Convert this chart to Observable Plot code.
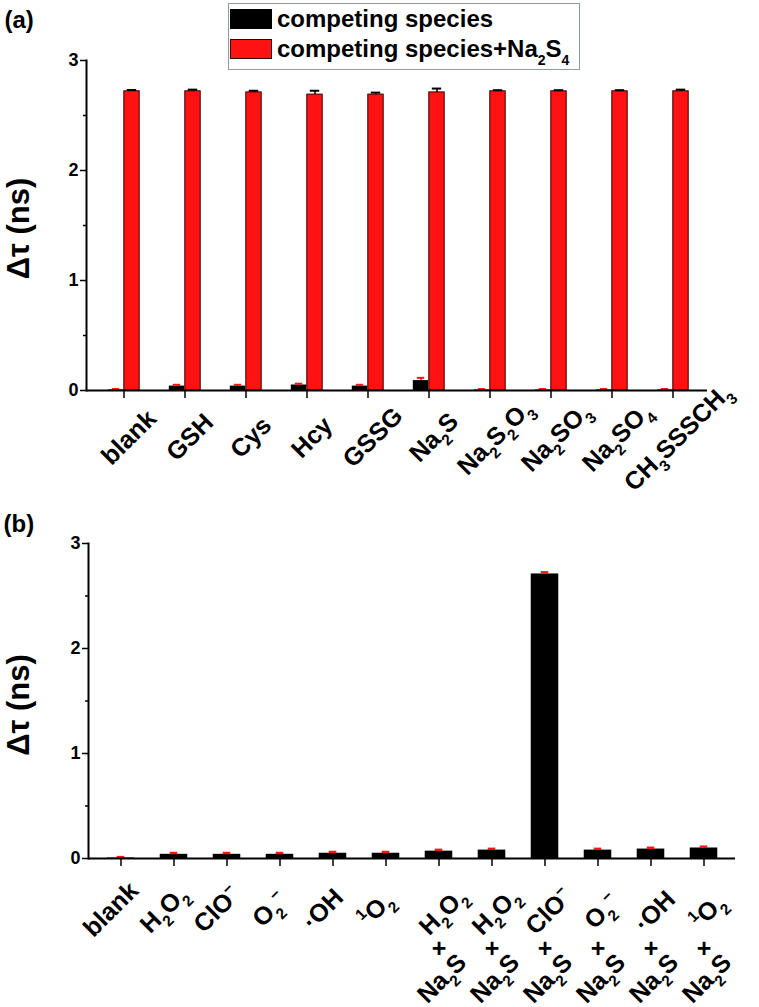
<!DOCTYPE html>
<html><head><meta charset="utf-8">
<script src="https://cdn.jsdelivr.net/npm/d3@7"></script>
<script src="https://cdn.jsdelivr.net/npm/@observablehq/plot@0.6"></script>
<style>
body{margin:0;background:#fff;font-family:"Liberation Sans",Arial,sans-serif;}
#wrap{position:relative;width:759px;}
.panel{position:relative;width:759px;}
#legend{position:absolute;left:228px;top:3px;width:352px;height:67px;border:1px solid #8f9d9d;background:#fff;box-sizing:border-box;font-weight:bold;font-size:24px;color:#000;}
#legend .sw{position:absolute;left:1px;width:42px;height:20px;box-sizing:border-box;}
#legend .t{position:absolute;left:48px;line-height:24px;white-space:nowrap;}
#legend sub{font-size:14px;vertical-align:-8px;line-height:0;}
</style></head>
<body><div id="wrap"><div id="pa" class="panel"></div><div id="pb" class="panel"></div></div>
<script>
// ---------- data: panel (a) ----------
const catsA = ["blank","GSH","Cys","Hcy","GSSG","Na₂S","Na₂S₂O₃","Na₂SO₃","Na₂SO₄","CH₃SSSCH₃"];
const speciesA    = [0.005,0.04,0.04,0.05,0.04,0.09,0.005,0.005,0.005,0.005];
const speciesErrA = [0.008,0.012,0.012,0.012,0.012,0.025,0.008,0.008,0.008,0.008];
const withS4A     = [2.72,2.72,2.71,2.69,2.69,2.71,2.72,2.72,2.72,2.72];
const withS4ErrA  = [0.012,0.015,0.015,0.035,0.018,0.035,0.01,0.01,0.01,0.015];
// ---------- data: panel (b) ----------
const labelsB = ["blank","H₂O₂","ClO⁻","O₂⁻","·OH","¹O₂","H₂O₂","H₂O₂","ClO⁻","O₂⁻","·OH","¹O₂"];
const addedB  = ["","","","","","","Na₂S","Na₂S","Na₂S","Na₂S","Na₂S","Na₂S"];
const valuesB = [0.005,0.04,0.04,0.04,0.05,0.05,0.07,0.08,2.71,0.08,0.09,0.10];
const errB    = [0.008,0.012,0.012,0.012,0.012,0.012,0.012,0.012,0.015,0.012,0.012,0.012];
const yTicks = [0,1,2,3];
const yMinor = [0.5,1.5,2.5];
const yLabel = "Δτ (ns)";

const FONT = "Liberation Sans, Arial, sans-serif";
const RED = "#ff1212";
const LBL = 25;

// turn unicode sub/superscript characters into real shifted tspans
const SUB = {"₀":"0","₁":"1","₂":"2","₃":"3","₄":"4","₅":"5","₆":"6","₇":"7","₈":"8","₉":"9"};
const SUP = {"⁰":"0","¹":"1","²":"2","³":"3","⁴":"4","⁻":"−"};
function scripts(svg) {
  svg.querySelectorAll("text").forEach(t => {
    if (t.querySelector("tspan")) return;
    const s = t.textContent;
    const chars = [...s];
    if (!chars.some(c => SUB[c] || SUP[c])) return;
    const fs = parseFloat(getComputedStyle(t).fontSize);
    const runs = [];
    for (const c of chars) {
      const k = SUB[c] ? "b" : SUP[c] ? "p" : "n";
      const v = SUB[c] || SUP[c] || c;
      if (runs.length && runs[runs.length-1].k === k) runs[runs.length-1].v += v;
      else runs.push({k, v});
    }
    t.textContent = "";
    for (const r of runs) {
      const ts = document.createElementNS("http://www.w3.org/2000/svg", "tspan");
      ts.textContent = r.v;
      if (r.k !== "n") {
        ts.setAttribute("font-size", (fs * 0.62).toFixed(1));
        ts.setAttribute("baseline-shift", r.k === "b" ? (-0.3 * fs).toFixed(1) : (0.42 * fs).toFixed(1));
      }
      t.appendChild(ts);
    }
  });
}

// ---------- panel (a) ----------
{
  const W = 759, H = 500, mL = 86, mR = 52, mT = 60, mB = 110, inL = 4, inR = 1;
  const n = catsA.length;
  const bw = (W - mR - inR - mL - inL) / n;
  const barW = 16;
  const idx = d3.range(n);
  const svg = Plot.plot({
    width: W, height: H, marginLeft: mL, marginRight: mR, marginTop: mT, marginBottom: mB,
    style: {fontFamily: FONT, fontWeight: "bold", fontSize: "18px", background: "white", color: "black", overflow: "visible"},
    x: {type: "band", domain: idx, padding: 0, insetLeft: inL, insetRight: inR, axis: null},
    y: {domain: [0, 3], axis: null},
    marks: [
      Plot.barY(idx, {x: i => i, y: i => speciesA[i], fill: "black", insetLeft: bw/2 - barW, insetRight: bw/2}),
      Plot.barY(idx, {x: i => i, y: i => withS4A[i], fill: RED, stroke: "#3a0000", strokeWidth: 1, insetLeft: bw/2, insetRight: bw/2 - barW}),
      Plot.ruleX(idx, {x: i => i, y1: i => withS4A[i], y2: i => withS4A[i] + withS4ErrA[i], dx: barW/2, stroke: "black", strokeWidth: 1.5}),
      Plot.tickY(idx, {x: i => i, y: i => withS4A[i] + withS4ErrA[i], dx: barW/2, insetLeft: bw/2 - 5, insetRight: bw/2 - 5, stroke: "black", strokeWidth: 2}),
      Plot.ruleX(idx, {x: i => i, y1: i => speciesA[i], y2: i => speciesA[i] + speciesErrA[i], dx: -barW/2, stroke: RED, strokeWidth: 1.5}),
      Plot.tickY(idx, {x: i => i, y: i => speciesA[i] + speciesErrA[i], dx: -barW/2, insetLeft: bw/2 - 4, insetRight: bw/2 - 4, stroke: RED, strokeWidth: 2}),
      Plot.frame({anchor: "left", strokeWidth: 2}),
      Plot.ruleY([0], {strokeWidth: 2}),
      Plot.axisY({ticks: yTicks, tickFormat: d => String(d), tickSize: 6, tickPadding: 2, fontSize: 18, fontWeight: "bold", strokeWidth: 1.5, label: null}),
      Plot.axisY({ticks: yMinor, tickSize: 3, tickFormat: () => "", strokeWidth: 1.5, label: null}),
      Plot.axisX({tickSize: 8, tickFormat: () => "", strokeWidth: 1.5, label: null}),
      Plot.text(idx, {x: i => i, y: 0, text: i => catsA[i], rotate: -45, dx: 5, dy: 47, textAnchor: "middle", lineAnchor: "middle", fontSize: LBL, fontWeight: "bold", fill: "black"}),
      Plot.text([yLabel], {frameAnchor: "left", rotate: -90, dx: 19 - mL, dy: 3, textAnchor: "middle", lineAnchor: "middle", fontSize: 31, fontWeight: "bold", fill: "black"}),
      Plot.text(["(a)"], {frameAnchor: "top-left", dx: 4 - mL, dy: 10 - mT, textAnchor: "start", lineAnchor: "top", fontSize: 24, fontWeight: "bold", fill: "black"})
    ]
  });
  const host = document.getElementById("pa");
  host.appendChild(svg);
  scripts(svg);
  const lg = document.createElement("div");
  lg.id = "legend";
  lg.innerHTML =
    '<div class="sw" style="top:5px;background:#000"></div>' +
    '<div class="t" style="top:3px">competing species</div>' +
    '<div class="sw" style="top:35px;background:' + RED + ';border:1px solid #3a0000"></div>' +
    '<div class="t" style="top:33px">competing species+Na<sub>2</sub>S<sub>4</sub></div>';
  host.appendChild(lg);
}

// ---------- panel (b) ----------
{
  const W = 759, H = 507, mL = 88, mR = 24, mT = 43, mB = 149, inL = 3.3, inR = 2.3;
  const n = labelsB.length;
  const bw = (W - mR - inR - mL - inL) / n;
  const barW = 28;
  const idx = d3.range(n);
  const single = idx.filter(i => !addedB[i]);
  const combo = idx.filter(i => addedB[i]);
  const svg = Plot.plot({
    width: W, height: H, marginLeft: mL, marginRight: mR, marginTop: mT, marginBottom: mB,
    style: {fontFamily: FONT, fontWeight: "bold", fontSize: "18px", background: "white", color: "black", overflow: "visible"},
    x: {type: "band", domain: idx, padding: 0, insetLeft: inL, insetRight: inR, axis: null},
    y: {domain: [0, 3], axis: null},
    marks: [
      Plot.barY(idx, {x: i => i, y: i => valuesB[i], fill: "black", insetLeft: (bw - barW)/2, insetRight: (bw - barW)/2}),
      Plot.ruleX(idx, {x: i => i, y1: i => valuesB[i], y2: i => valuesB[i] + errB[i], stroke: RED, strokeWidth: 1.5}),
      Plot.tickY(idx, {x: i => i, y: i => valuesB[i] + errB[i], insetLeft: bw/2 - 4, insetRight: bw/2 - 4, stroke: RED, strokeWidth: 2.5}),
      Plot.frame({anchor: "left", strokeWidth: 2}),
      Plot.ruleY([0], {strokeWidth: 2}),
      Plot.axisY({ticks: yTicks, tickFormat: d => String(d), tickSize: 6, tickPadding: 2, fontSize: 18, fontWeight: "bold", strokeWidth: 1.5, label: null}),
      Plot.axisY({ticks: yMinor, tickSize: 3, tickFormat: () => "", strokeWidth: 1.5, label: null}),
      Plot.axisX({tickSize: 8, tickFormat: () => "", strokeWidth: 1.5, label: null}),
      Plot.text(single, {x: i => i, y: 0, text: i => labelsB[i], rotate: -45, dx: -10, dy: 51, textAnchor: "middle", lineAnchor: "middle", fontSize: LBL, fontWeight: "bold", fill: "black"}),
      Plot.text(combo, {x: i => i, y: 0, text: i => labelsB[i], rotate: -45, dx: 4, dy: 53, textAnchor: "middle", lineAnchor: "middle", fontSize: LBL, fontWeight: "bold", fill: "black"}),
      Plot.text(combo, {x: i => i, y: 0, text: () => "+", dx: 0, dy: 90, textAnchor: "middle", lineAnchor: "middle", fontSize: LBL, fontWeight: "bold", fill: "black"}),
      Plot.text(combo, {x: i => i, y: 0, text: i => addedB[i], rotate: -45, dx: 3, dy: 120, textAnchor: "middle", lineAnchor: "middle", fontSize: LBL, fontWeight: "bold", fill: "black"}),
      Plot.text([yLabel], {frameAnchor: "left", rotate: -90, dx: 19 - mL, dy: 4, textAnchor: "middle", lineAnchor: "middle", fontSize: 31, fontWeight: "bold", fill: "black"}),
      Plot.text(["(b)"], {frameAnchor: "top-left", dx: 3 - mL, dy: 14 - mT, textAnchor: "start", lineAnchor: "top", fontSize: 24, fontWeight: "bold", fill: "black"})
    ]
  });
  document.getElementById("pb").appendChild(svg);
  scripts(svg);
}
</script>
</body></html>
